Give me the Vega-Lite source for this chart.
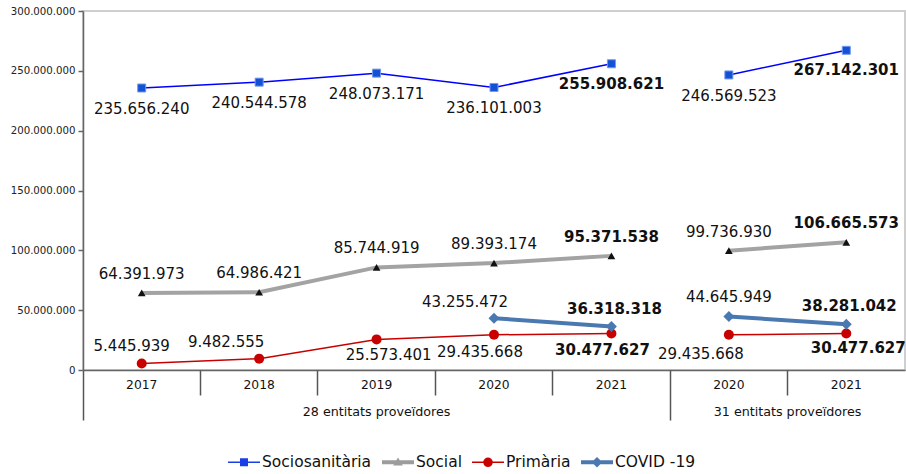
{
  "$schema": "https://vega.github.io/schema/vega-lite/v6.json",
  "width": 822,
  "height": 359,
  "autosize": {"type": "none"},
  "padding": {"left": 83, "top": 11, "right": 1, "bottom": 104},
  "background": "white",
  "config": {
    "view": {"stroke": "#cfcfcf", "strokeWidth": 2},
    "font": "DejaVu Sans",
    "locale": {"number": {"decimal": ",", "thousands": ".", "grouping": [3], "currency": ["", " €"]}}
  },
  "data": {"values": [
    {"series": "Sociosanitària", "x": "2017", "group": "28", "value": 235656240},
    {"series": "Sociosanitària", "x": "2018", "group": "28", "value": 240544578},
    {"series": "Sociosanitària", "x": "2019", "group": "28", "value": 248073171},
    {"series": "Sociosanitària", "x": "2020", "group": "28", "value": 236101003},
    {"series": "Sociosanitària", "x": "2021", "group": "28", "value": 255908621},
    {"series": "Sociosanitària", "x": "2020b", "group": "31", "value": 246569523},
    {"series": "Sociosanitària", "x": "2021b", "group": "31", "value": 267142301},
    {"series": "Social", "x": "2017", "group": "28", "value": 64391973},
    {"series": "Social", "x": "2018", "group": "28", "value": 64986421},
    {"series": "Social", "x": "2019", "group": "28", "value": 85744919},
    {"series": "Social", "x": "2020", "group": "28", "value": 89393174},
    {"series": "Social", "x": "2021", "group": "28", "value": 95371538},
    {"series": "Social", "x": "2020b", "group": "31", "value": 99736930},
    {"series": "Social", "x": "2021b", "group": "31", "value": 106665573},
    {"series": "Primària", "x": "2017", "group": "28", "value": 5445939},
    {"series": "Primària", "x": "2018", "group": "28", "value": 9482555},
    {"series": "Primària", "x": "2019", "group": "28", "value": 25573401},
    {"series": "Primària", "x": "2020", "group": "28", "value": 29435668},
    {"series": "Primària", "x": "2021", "group": "28", "value": 30477627},
    {"series": "Primària", "x": "2020b", "group": "31", "value": 29435668},
    {"series": "Primària", "x": "2021b", "group": "31", "value": 30477627},
    {"series": "COVID-19", "x": "2020", "group": "28", "value": 43255472},
    {"series": "COVID-19", "x": "2021", "group": "28", "value": 36318318},
    {"series": "COVID-19", "x": "2020b", "group": "31", "value": 44645949},
    {"series": "COVID-19", "x": "2021b", "group": "31", "value": 38281042}
  ]},
  "resolve": {"axis": {"x": "independent", "y": "independent"}},
  "layer": [
    {
      "mark": {"type": "point", "filled": true, "size": 0, "opacity": 1, "fillOpacity": 1},
      "encoding": {
        "x": {"field": "x", "type": "ordinal", "scale": {"type": "band", "domain": ["2017","2018","2019","2020","2021","2020b","2021b"], "paddingInner": 0, "paddingOuter": 0},
          "axis": {"orient": "bottom", "title": null, "ticks": false, "domain": true, "domainColor": "#666", "domainWidth": 1.5, "labelExpr": "replace(datum.label, 'b', '')", "labelFont": "DejaVu Sans", "labelFontSize": 12.3, "labelColor": "#111", "labelPadding": 8, "labelAngle": 0, "labelOverlap": false}},
        "y": {"field": "value", "type": "quantitative", "scale": {"domain": [0, 300000000], "nice": false},
          "axis": {"orient": "left", "title": null, "values": [0, 50000000, 100000000, 150000000, 200000000, 250000000, 300000000], "format": ",d", "labelFont": "DejaVu Sans", "labelFontSize": 10.2, "labelColor": "#222", "grid": false, "domainColor": "#666", "domainWidth": 1.5, "tickColor": "#666", "tickSize": 5, "tickWidth": 1.5, "labelPadding": 3, "labelFlush": false, "labelOverlap": false}},
        "fill": {"field": "series", "type": "nominal",
          "scale": {"domain": ["Sociosanitària", "Social", "Primària", "COVID-19"], "range": ["#1a3fe6", "#9c9c9c", "#c80000", "#4a78b0"]},
          "legend": {"orient": "none", "legendX": 145, "legendY": 435, "direction": "horizontal", "title": null, "symbolSize": 1024, "symbolOpacity": 1, "symbolStrokeWidth": 0, "labelFont": "DejaVu Sans", "labelFontSize": 15.5, "labelColor": "#111", "labelOffset": 2, "columnPadding": 10, "labelExpr": "datum.label == 'COVID-19' ? 'COVID -19' : datum.label"}},
        "shape": {"field": "series", "type": "nominal",
          "scale": {"domain": ["Sociosanitària", "Social", "Primària", "COVID-19"], "range": [
            "M-1,-0.05H-0.25V-0.25H0.25V-0.05H1V0.05H0.25V0.25H-0.25V0.05H-1Z",
            "M-1,-0.125H-0.105L0,-0.3L0.105,-0.125H1V0.125H0.255L0.3,0.2H-0.3L-0.255,0.125H-1Z",
            "M-1,-0.05H-0.296A0.3,0.3 0 0 1 0.296,-0.05H1V0.05H0.296A0.3,0.3 0 0 1 -0.296,0.05H-1Z",
            "M-1,-0.125H-0.205L0,-0.33L0.205,-0.125H1V0.125H0.205L0,0.33L-0.205,0.125H-1Z"
          ]}}
      }
    },
    {
      "transform": [{"filter": "datum.series == 'Sociosanitària' || datum.series == 'Primària'"}],
      "mark": {"type": "line", "strokeWidth": 1.5},
      "encoding": {
        "x": {"field": "x", "type": "ordinal", "scale": {"type": "band", "domain": ["2017","2018","2019","2020","2021","2020b","2021b"], "paddingInner": 0, "paddingOuter": 0}, "axis": null},
        "y": {"field": "value", "type": "quantitative", "scale": {"domain": [0, 300000000], "nice": false}, "axis": null},
        "stroke": {"field": "series", "type": "nominal", "scale": {"domain": ["Sociosanitària", "Social", "Primària", "COVID-19"], "range": ["#0000ff", "#a3a3a3", "#c80000", "#4a78b0"]}, "legend": null},
        "detail": {"field": "group"}
      }
    },
    {
      "transform": [{"filter": "datum.series == 'Social' || datum.series == 'COVID-19'"}],
      "mark": {"type": "line", "strokeWidth": 4},
      "encoding": {
        "x": {"field": "x", "type": "ordinal", "scale": {"type": "band", "domain": ["2017","2018","2019","2020","2021","2020b","2021b"], "paddingInner": 0, "paddingOuter": 0}, "axis": null},
        "y": {"field": "value", "type": "quantitative", "scale": {"domain": [0, 300000000], "nice": false}, "axis": null},
        "stroke": {"field": "series", "type": "nominal", "scale": {"domain": ["Sociosanitària", "Social", "Primària", "COVID-19"], "range": ["#0000ff", "#a3a3a3", "#c80000", "#4a78b0"]}, "legend": null},
        "detail": {"field": "group"}
      }
    },
    {
      "transform": [{"filter": "datum.series == 'Sociosanitària'"}],
      "mark": {"type": "point", "shape": "square", "filled": true, "size": 64, "color": "#1450d4", "stroke": "#6f98f0", "strokeWidth": 1, "opacity": 1},
      "encoding": {
        "x": {"field": "x", "type": "ordinal", "scale": {"type": "band", "domain": ["2017","2018","2019","2020","2021","2020b","2021b"], "paddingInner": 0, "paddingOuter": 0},
          "axis": {"orient": "bottom", "title": null, "values": ["2018", "2019", "2020", "2021", "2021b"], "bandPosition": 0, "ticks": true, "tickSize": 25, "tickColor": "#555", "tickWidth": 1.5, "labels": false, "domain": false}},
        "y": {"field": "value", "type": "quantitative", "scale": {"domain": [0, 300000000], "nice": false}, "axis": null}
      }
    },
    {
      "transform": [{"filter": "datum.series == 'Social'"}],
      "mark": {"type": "point", "shape": "triangle-up", "filled": true, "size": 60, "color": "#111", "opacity": 1},
      "encoding": {
        "x": {"field": "x", "type": "ordinal", "scale": {"type": "band", "domain": ["2017","2018","2019","2020","2021","2020b","2021b"], "paddingInner": 0, "paddingOuter": 0},
          "axis": {"orient": "bottom", "title": null, "values": ["2017", "2020b"], "bandPosition": 0, "ticks": true, "tickSize": 50, "tickColor": "#555", "tickWidth": 1.5, "labels": false, "domain": false}},
        "y": {"field": "value", "type": "quantitative", "scale": {"domain": [0, 300000000], "nice": false}, "axis": null}
      }
    },
    {
      "transform": [{"filter": "datum.series == 'Primària'"}],
      "mark": {"type": "point", "shape": "circle", "filled": true, "size": 100, "color": "#c80000", "opacity": 1},
      "encoding": {
        "x": {"field": "x", "type": "ordinal", "scale": {"type": "band", "domain": ["2017","2018","2019","2020","2021","2020b","2021b"], "paddingInner": 0, "paddingOuter": 0},
          "axis": {"orient": "bottom", "title": null, "values": ["2019"], "ticks": false, "domain": false, "labelExpr": "'28 entitats proveïdores'", "labelFont": "DejaVu Sans", "labelFontSize": 12.7, "labelColor": "#111", "labelPadding": 35, "labelAngle": 0, "labelOverlap": false}},
        "y": {"field": "value", "type": "quantitative", "scale": {"domain": [0, 300000000], "nice": false}, "axis": null}
      }
    },
    {
      "transform": [{"filter": "datum.series == 'COVID-19'"}],
      "mark": {"type": "point", "shape": "diamond", "filled": true, "size": 120, "color": "#4a78b0", "opacity": 1},
      "encoding": {
        "x": {"field": "x", "type": "ordinal", "scale": {"type": "band", "domain": ["2017","2018","2019","2020","2021","2020b","2021b"], "paddingInner": 0, "paddingOuter": 0},
          "axis": {"orient": "bottom", "title": null, "values": ["2020b"], "labelOffset": 58.7, "ticks": false, "domain": false, "labelExpr": "'31 entitats proveïdores'", "labelFont": "DejaVu Sans", "labelFontSize": 12.7, "labelColor": "#111", "labelPadding": 35, "labelAngle": 0, "labelOverlap": false}},
        "y": {"field": "value", "type": "quantitative", "scale": {"domain": [0, 300000000], "nice": false}, "axis": null}
      }
    },
    {
      "transform": [{"filter": "datum.series == 'Sociosanitària' && datum.x != '2021' && datum.x != '2021b'"}],
      "mark": {"type": "text", "dy": 21, "fontSize": 15, "font": "DejaVu Sans", "color": "#111"},
      "encoding": {
        "x": {"field": "x", "type": "ordinal", "scale": {"type": "band", "domain": ["2017","2018","2019","2020","2021","2020b","2021b"], "paddingInner": 0, "paddingOuter": 0}, "axis": null},
        "y": {"field": "value", "type": "quantitative", "scale": {"domain": [0, 300000000], "nice": false}, "axis": null},
        "text": {"field": "value", "type": "quantitative", "format": ",d"}
      }
    },
    {
      "transform": [{"filter": "datum.series == 'Sociosanitària' && (datum.x == '2021' || datum.x == '2021b')"}],
      "mark": {"type": "text", "dy": 20, "fontSize": 15, "fontWeight": "bold", "font": "DejaVu Sans", "color": "#111"},
      "encoding": {
        "x": {"field": "x", "type": "ordinal", "scale": {"type": "band", "domain": ["2017","2018","2019","2020","2021","2020b","2021b"], "paddingInner": 0, "paddingOuter": 0}, "axis": null},
        "y": {"field": "value", "type": "quantitative", "scale": {"domain": [0, 300000000], "nice": false}, "axis": null},
        "text": {"field": "value", "type": "quantitative", "format": ",d"}
      }
    },
    {
      "transform": [{"filter": "datum.series == 'Social' && datum.x != '2021' && datum.x != '2021b'"}],
      "mark": {"type": "text", "dy": -19, "fontSize": 15, "font": "DejaVu Sans", "color": "#111"},
      "encoding": {
        "x": {"field": "x", "type": "ordinal", "scale": {"type": "band", "domain": ["2017","2018","2019","2020","2021","2020b","2021b"], "paddingInner": 0, "paddingOuter": 0}, "axis": null},
        "y": {"field": "value", "type": "quantitative", "scale": {"domain": [0, 300000000], "nice": false}, "axis": null},
        "text": {"field": "value", "type": "quantitative", "format": ",d"}
      }
    },
    {
      "transform": [{"filter": "datum.series == 'Social' && (datum.x == '2021' || datum.x == '2021b')"}],
      "mark": {"type": "text", "dy": -19, "fontSize": 15, "fontWeight": "bold", "font": "DejaVu Sans", "color": "#111"},
      "encoding": {
        "x": {"field": "x", "type": "ordinal", "scale": {"type": "band", "domain": ["2017","2018","2019","2020","2021","2020b","2021b"], "paddingInner": 0, "paddingOuter": 0}, "axis": null},
        "y": {"field": "value", "type": "quantitative", "scale": {"domain": [0, 300000000], "nice": false}, "axis": null},
        "text": {"field": "value", "type": "quantitative", "format": ",d"}
      }
    },
    {
      "transform": [{"filter": "datum.series == 'COVID-19' && datum.x == '2020'"}],
      "mark": {"type": "text", "dx": -29, "dy": -16, "fontSize": 15, "font": "DejaVu Sans", "color": "#111"},
      "encoding": {
        "x": {"field": "x", "type": "ordinal", "scale": {"type": "band", "domain": ["2017","2018","2019","2020","2021","2020b","2021b"], "paddingInner": 0, "paddingOuter": 0}, "axis": null},
        "y": {"field": "value", "type": "quantitative", "scale": {"domain": [0, 300000000], "nice": false}, "axis": null},
        "text": {"field": "value", "type": "quantitative", "format": ",d"}
      }
    },
    {
      "transform": [{"filter": "datum.series == 'COVID-19' && datum.x == '2020b'"}],
      "mark": {"type": "text", "dy": -20, "fontSize": 15, "font": "DejaVu Sans", "color": "#111"},
      "encoding": {
        "x": {"field": "x", "type": "ordinal", "scale": {"type": "band", "domain": ["2017","2018","2019","2020","2021","2020b","2021b"], "paddingInner": 0, "paddingOuter": 0}, "axis": null},
        "y": {"field": "value", "type": "quantitative", "scale": {"domain": [0, 300000000], "nice": false}, "axis": null},
        "text": {"field": "value", "type": "quantitative", "format": ",d"}
      }
    },
    {
      "transform": [{"filter": "datum.series == 'COVID-19' && (datum.x == '2021' || datum.x == '2021b')"}],
      "mark": {"type": "text", "dx": 3, "dy": -18, "fontSize": 15, "fontWeight": "bold", "font": "DejaVu Sans", "color": "#111"},
      "encoding": {
        "x": {"field": "x", "type": "ordinal", "scale": {"type": "band", "domain": ["2017","2018","2019","2020","2021","2020b","2021b"], "paddingInner": 0, "paddingOuter": 0}, "axis": null},
        "y": {"field": "value", "type": "quantitative", "scale": {"domain": [0, 300000000], "nice": false}, "axis": null},
        "text": {"field": "value", "type": "quantitative", "format": ",d"}
      }
    },
    {
      "transform": [{"filter": "datum.series == 'Primària' && datum.x == '2017'"}],
      "mark": {"type": "text", "dx": -10, "dy": -17, "fontSize": 15, "font": "DejaVu Sans", "color": "#111"},
      "encoding": {
        "x": {"field": "x", "type": "ordinal", "scale": {"type": "band", "domain": ["2017","2018","2019","2020","2021","2020b","2021b"], "paddingInner": 0, "paddingOuter": 0}, "axis": null},
        "y": {"field": "value", "type": "quantitative", "scale": {"domain": [0, 300000000], "nice": false}, "axis": null},
        "text": {"field": "value", "type": "quantitative", "format": ",d"}
      }
    },
    {
      "transform": [{"filter": "datum.series == 'Primària' && datum.x == '2018'"}],
      "mark": {"type": "text", "dx": -33, "dy": -17, "fontSize": 15, "font": "DejaVu Sans", "color": "#111"},
      "encoding": {
        "x": {"field": "x", "type": "ordinal", "scale": {"type": "band", "domain": ["2017","2018","2019","2020","2021","2020b","2021b"], "paddingInner": 0, "paddingOuter": 0}, "axis": null},
        "y": {"field": "value", "type": "quantitative", "scale": {"domain": [0, 300000000], "nice": false}, "axis": null},
        "text": {"field": "value", "type": "quantitative", "format": ",d"}
      }
    },
    {
      "transform": [{"filter": "datum.series == 'Primària' && datum.x == '2019'"}],
      "mark": {"type": "text", "dx": 12, "dy": 16, "fontSize": 15, "font": "DejaVu Sans", "color": "#111"},
      "encoding": {
        "x": {"field": "x", "type": "ordinal", "scale": {"type": "band", "domain": ["2017","2018","2019","2020","2021","2020b","2021b"], "paddingInner": 0, "paddingOuter": 0}, "axis": null},
        "y": {"field": "value", "type": "quantitative", "scale": {"domain": [0, 300000000], "nice": false}, "axis": null},
        "text": {"field": "value", "type": "quantitative", "format": ",d"}
      }
    },
    {
      "transform": [{"filter": "datum.series == 'Primària' && datum.x == '2020'"}],
      "mark": {"type": "text", "dx": -14, "dy": 17, "fontSize": 15, "font": "DejaVu Sans", "color": "#111"},
      "encoding": {
        "x": {"field": "x", "type": "ordinal", "scale": {"type": "band", "domain": ["2017","2018","2019","2020","2021","2020b","2021b"], "paddingInner": 0, "paddingOuter": 0}, "axis": null},
        "y": {"field": "value", "type": "quantitative", "scale": {"domain": [0, 300000000], "nice": false}, "axis": null},
        "text": {"field": "value", "type": "quantitative", "format": ",d"}
      }
    },
    {
      "transform": [{"filter": "datum.series == 'Primària' && datum.x == '2020b'"}],
      "mark": {"type": "text", "dx": -28, "dy": 19, "fontSize": 15, "font": "DejaVu Sans", "color": "#111"},
      "encoding": {
        "x": {"field": "x", "type": "ordinal", "scale": {"type": "band", "domain": ["2017","2018","2019","2020","2021","2020b","2021b"], "paddingInner": 0, "paddingOuter": 0}, "axis": null},
        "y": {"field": "value", "type": "quantitative", "scale": {"domain": [0, 300000000], "nice": false}, "axis": null},
        "text": {"field": "value", "type": "quantitative", "format": ",d"}
      }
    },
    {
      "transform": [{"filter": "datum.series == 'Primària' && datum.x == '2021'"}],
      "mark": {"type": "text", "dx": -9, "dy": 16, "fontSize": 15, "fontWeight": "bold", "font": "DejaVu Sans", "color": "#111"},
      "encoding": {
        "x": {"field": "x", "type": "ordinal", "scale": {"type": "band", "domain": ["2017","2018","2019","2020","2021","2020b","2021b"], "paddingInner": 0, "paddingOuter": 0}, "axis": null},
        "y": {"field": "value", "type": "quantitative", "scale": {"domain": [0, 300000000], "nice": false}, "axis": null},
        "text": {"field": "value", "type": "quantitative", "format": ",d"}
      }
    },
    {
      "transform": [{"filter": "datum.series == 'Primària' && datum.x == '2021b'"}],
      "mark": {"type": "text", "dx": 12, "dy": 14, "fontSize": 15, "fontWeight": "bold", "font": "DejaVu Sans", "color": "#111"},
      "encoding": {
        "x": {"field": "x", "type": "ordinal", "scale": {"type": "band", "domain": ["2017","2018","2019","2020","2021","2020b","2021b"], "paddingInner": 0, "paddingOuter": 0}, "axis": null},
        "y": {"field": "value", "type": "quantitative", "scale": {"domain": [0, 300000000], "nice": false}, "axis": null},
        "text": {"field": "value", "type": "quantitative", "format": ",d"}
      }
    }
  ]
}
